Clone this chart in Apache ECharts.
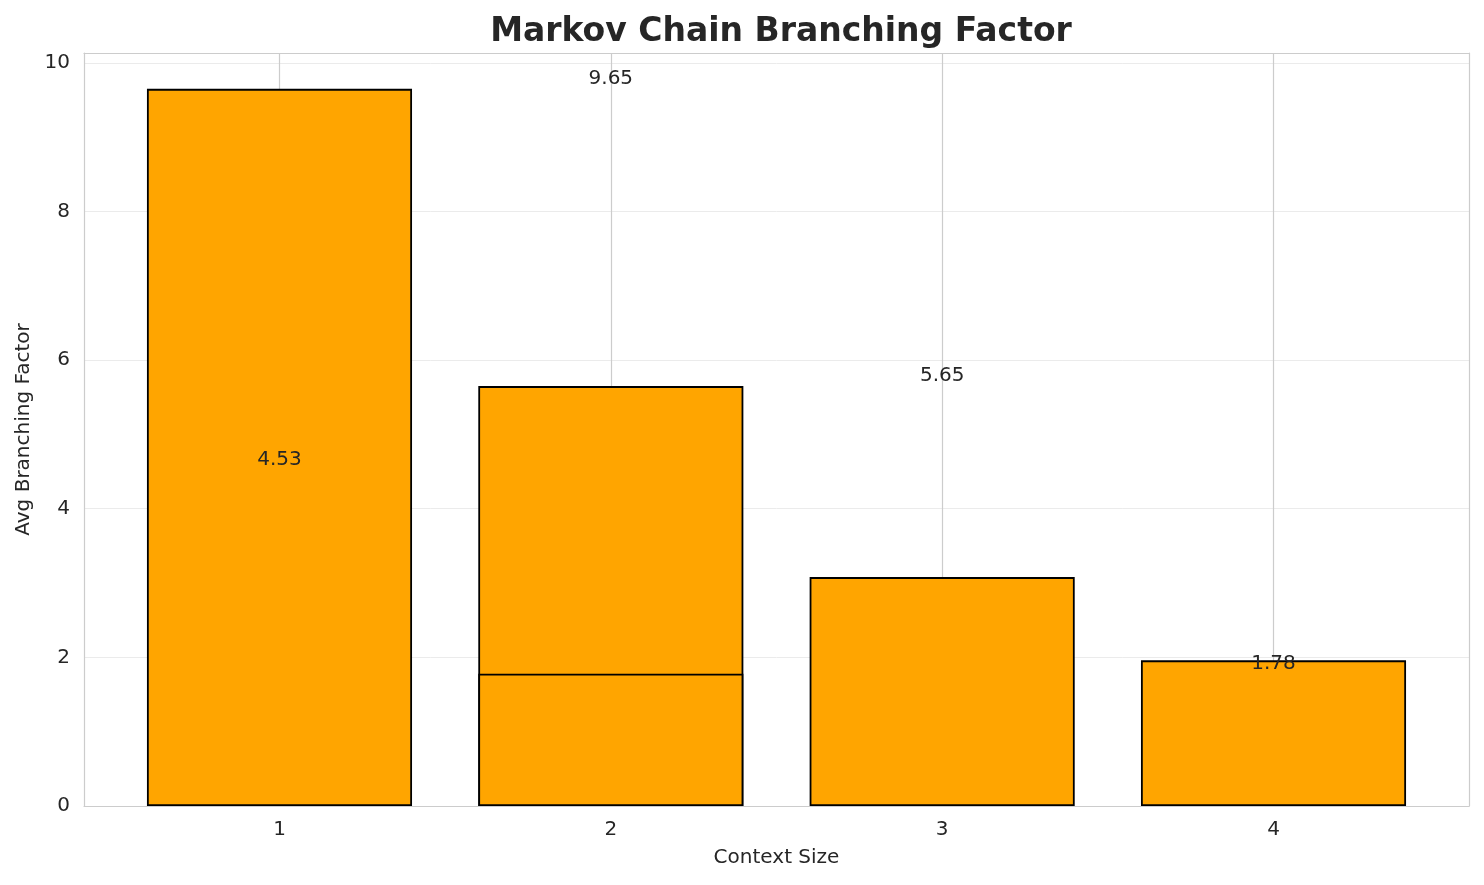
<!DOCTYPE html>
<html>
<head>
<meta charset="utf-8">
<script src="https://cdn.jsdelivr.net/npm/echarts@6/dist/echarts.min.js"></script>
<style>html,body{margin:0;padding:0;background:#fff}#chart{width:1484px;height:885px}</style>
</head>
<body>
<div id="chart"></div>
<script>
const contextSizes = [1, 2, 3, 4];
const barValues = [9.65, 5.65, 3.08, 1.96];
const overlayBar = [null, 1.78, null, null];
const labelValues = [4.53, 9.65, 5.65, 1.78];
const yTicks = [0, 2, 4, 6, 8, 10];

const font = 'DejaVu Sans';
const txt = '#262626';
const chart = echarts.init(document.getElementById('chart'), null, {renderer: 'canvas'});

const barData = contextSizes.map((x, i) => [x, barValues[i]]);
const overlayData = contextSizes.map((x, i) => [x, overlayBar[i]]).filter(d => d[1] !== null);
const labelData = contextSizes.map((x, i) => [x, labelValues[i]]);

chart.setOption({
  animation: false,
  backgroundColor: '#fff',
  title: {
    text: 'Markov Chain Branching Factor',
    left: 776, top: 11, textAlign: 'center',
    textStyle: {fontFamily: font, fontSize: 33, fontWeight: 'bold', color: txt}
  },
  grid: {left: 84, right: 15, top: 53, bottom: 79, containLabel: false},
  xAxis: [{
    type: 'value', min: 0.41, max: 4.59,
    name: 'Context Size', nameLocation: 'middle', nameGap: 42,
    nameTextStyle: {fontFamily: font, fontSize: 20, color: txt},
    axisLine: {show: true, lineStyle: {color: '#cccccc', width: 1.2}},
    axisTick: {show: false},
    splitLine: {show: false},
    axisLabel: {customValues: contextSizes, fontFamily: font, fontSize: 20, color: txt, margin: 14, formatter: v => String(v)}
  }, {
    type: 'value', min: 0.41, max: 4.59, position: 'top',
    axisLine: {show: true, onZero: false, lineStyle: {color: '#cccccc', width: 1.2}},
    axisTick: {show: false}, axisLabel: {show: false}, splitLine: {show: false}
  }],
  yAxis: [{
    type: 'value', min: 0, max: 10.1325, interval: 2,
    name: 'Avg Branching Factor', nameLocation: 'middle', nameGap: 50,
    nameTextStyle: {fontFamily: font, fontSize: 20, color: txt},
    axisLine: {show: true, lineStyle: {color: '#cccccc', width: 1.2}},
    axisTick: {show: false},
    axisLabel: {fontFamily: font, fontSize: 20, color: txt, margin: 14, showMaxLabel: false},
    splitLine: {show: true, lineStyle: {color: '#ebebeb', width: 1}}
  }, {
    type: 'value', min: 0, max: 10.1325, position: 'right',
    axisLine: {show: true, onZero: false, lineStyle: {color: '#cccccc', width: 1.2}},
    axisTick: {show: false}, axisLabel: {show: false}, splitLine: {show: false}
  }],
  series: [
    {
      type: 'line', data: [], z: 0, silent: true,
      markLine: {
        silent: true, symbol: 'none', label: {show: false}, z: 0,
        lineStyle: {color: '#cccccc', width: 1.2, type: 'solid'},
        data: contextSizes.map(x => ({xAxis: x}))
      }
    },
    {
      type: 'bar', data: barData, barWidth: '80%', barGap: '-100%', z: 2,
      itemStyle: {color: '#ffa500', borderColor: '#000', borderWidth: 1.8}
    },
    {
      type: 'bar', data: overlayData, barWidth: '80%', barGap: '-100%', z: 3,
      itemStyle: {color: '#ffa500', borderColor: '#000', borderWidth: 1.8}
    },
    {
      type: 'scatter', data: labelData, symbolSize: 0, z: 10,
      itemStyle: {color: txt, opacity: 1},
      label: {show: true, position: 'top', distance: 0, fontFamily: font, fontSize: 20, color: txt, opacity: 1,
        formatter: p => p.value[1].toFixed(2)}
    }
  ]
});
</script>
</body>
</html>
